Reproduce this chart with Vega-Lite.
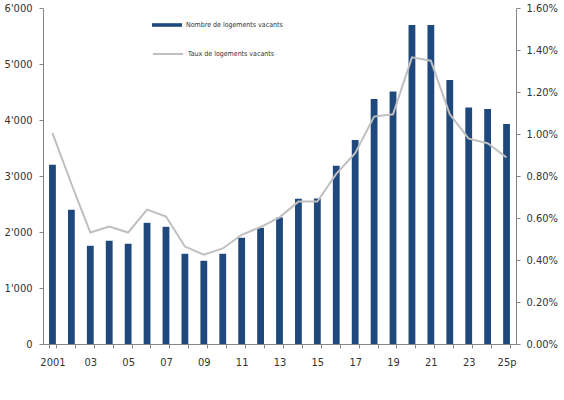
{
  "$schema": "https://vega.github.io/schema/vega-lite/v6.json",
  "autosize": "none",
  "width": 473,
  "height": 336,
  "padding": {"left": 43, "top": 8, "right": 48, "bottom": 56},
  "background": "white",
  "config": {
    "view": {"stroke": null},
    "font": "DejaVu Sans Condensed, DejaVu Sans",
    "axis": {
      "grid": false,
      "domainColor": "#868686",
      "tickColor": "#868686",
      "labelColor": "#333333",
      "labelFont": "DejaVu Sans Condensed, DejaVu Sans",
      "labelFontSize": 11,
      "tickSize": 4,
      "labelPadding": 6,
      "titleFontSize": 0
    },
    "legend": {
      "labelFont": "DejaVu Sans Condensed, DejaVu Sans",
      "labelFontSize": 7,
      "labelColor": "#333333",
      "padding": 0
    }
  },
  "data": {
    "values": [
      {"year": "2001", "count": 3200, "rate": 0.01004},
      {"year": "2002", "count": 2396, "rate": 0.00763},
      {"year": "2003", "count": 1754, "rate": 0.00531},
      {"year": "2004", "count": 1843, "rate": 0.00559},
      {"year": "2005", "count": 1790, "rate": 0.00531},
      {"year": "2006", "count": 2164, "rate": 0.0064},
      {"year": "2007", "count": 2093, "rate": 0.00607},
      {"year": "2008", "count": 1611, "rate": 0.00464},
      {"year": "2009", "count": 1486, "rate": 0.00425},
      {"year": "2010", "count": 1611, "rate": 0.00455},
      {"year": "2011", "count": 1897, "rate": 0.0052},
      {"year": "2012", "count": 2075, "rate": 0.00557},
      {"year": "2013", "count": 2260, "rate": 0.00603},
      {"year": "2014", "count": 2595, "rate": 0.00678},
      {"year": "2015", "count": 2600, "rate": 0.00678},
      {"year": "2016", "count": 3185, "rate": 0.0081},
      {"year": "2017", "count": 3645, "rate": 0.00909},
      {"year": "2018", "count": 4376, "rate": 0.01083},
      {"year": "2019", "count": 4507, "rate": 0.01094},
      {"year": "2020", "count": 5697, "rate": 0.01365},
      {"year": "2021", "count": 5697, "rate": 0.01349},
      {"year": "2022", "count": 4716, "rate": 0.01094},
      {"year": "2023", "count": 4221, "rate": 0.00978},
      {"year": "2024", "count": 4198, "rate": 0.00956},
      {"year": "2025", "count": 3930, "rate": 0.00888}
    ]
  },
  "encoding": {
    "x": {
      "field": "year",
      "type": "ordinal",
      "scale": {"paddingInner": 0.64, "paddingOuter": 0.32},
      "axis": {
        "title": null,
        "labelAngle": 0,
        "tickBand": "extent",
        "labelExpr": "datum.value == '2001' ? '2001' : (datum.value == '2025' ? '25p' : (toNumber(datum.value) % 2 == 1 ? substring(datum.value, 2, 4) : ''))",
        "labelPadding": 8
      }
    }
  },
  "layer": [
    {
      "mark": {"type": "bar"},
      "encoding": {
        "y": {
          "field": "count",
          "type": "quantitative",
          "scale": {"domain": [0, 6000], "nice": false},
          "axis": {
            "title": null,
            "values": [0, 1000, 2000, 3000, 4000, 5000, 6000],
            "labelExpr": "replace(format(datum.value, ','), ',', \"'\")",
            "labelPadding": 7
          }
        },
        "color": {
          "datum": "Nombre de logements vacants",
          "scale": {"range": ["#1F497D"]},
          "legend": {
            "title": null,
            "orient": "none",
            "legendX": 109,
            "legendY": 2,
            "symbolType": "M-1,-0.12H1V0.12H-1Z",
            "symbolSize": 900,
            "symbolStrokeWidth": 0,
            "labelOffset": 4
          }
        }
      }
    },
    {
      "mark": {"type": "line", "strokeWidth": 2},
      "encoding": {
        "y": {
          "field": "rate",
          "type": "quantitative",
          "scale": {"domain": [0, 0.016], "nice": false},
          "axis": {
            "title": null,
            "orient": "right",
            "values": [0, 0.002, 0.004, 0.006, 0.008, 0.01, 0.012, 0.014, 0.016],
            "format": ".2%",
            "labelPadding": 6
          }
        },
        "stroke": {
          "datum": "Taux de logements vacants",
          "scale": {"range": ["#BFBFBF"]},
          "legend": {
            "title": null,
            "orient": "none",
            "legendX": 109,
            "legendY": 30,
            "symbolType": "stroke",
            "symbolSize": 900,
            "symbolStrokeWidth": 2,
            "labelOffset": 4
          }
        }
      }
    }
  ],
  "resolve": {"scale": {"y": "independent", "color": "independent"}}
}
